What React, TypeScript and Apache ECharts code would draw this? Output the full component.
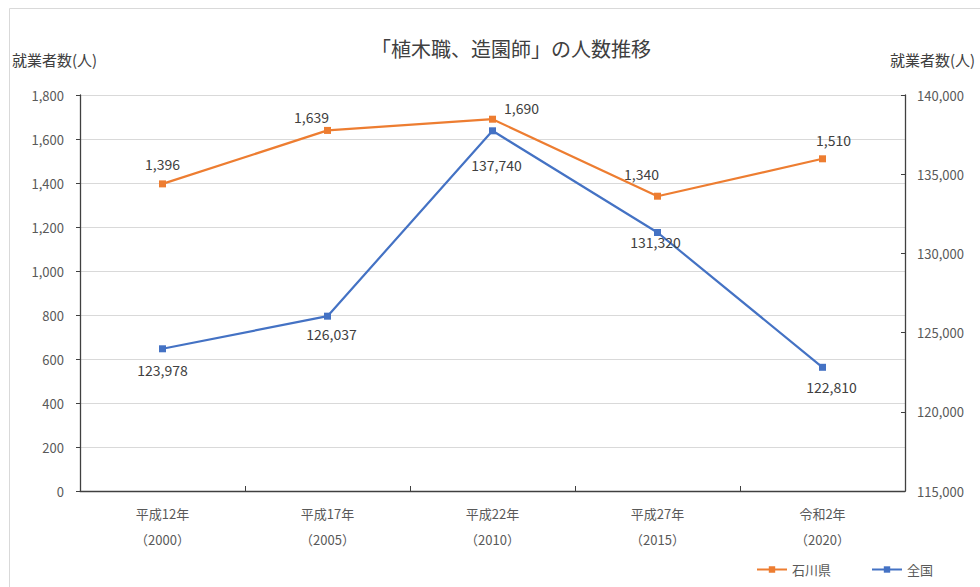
import React, { useEffect, useRef } from "react";
import * as echarts from "echarts";

const categories = ["平成12年\n（2000）", "平成17年\n（2005）", "平成22年\n（2010）", "平成27年\n（2015）", "令和2年\n（2020）"];
const ishikawa = [1396, 1639, 1690, 1340, 1510];
const zenkoku = [123978, 126037, 137740, 131320, 122810];
const leftTicks = { min: 0, max: 1800, interval: 200 };
const rightTicks = { min: 115000, max: 140000, interval: 5000 };

const ishiOffsets = [[0, -4], [-16, 2], [29, 4], [-16, -7], [11, -3]];
const zenOffsets = [[0, 6], [4, 2], [4, 19], [-2, -6], [9, 4]];

const FONT = "'Noto Sans CJK JP', 'Noto Sans', sans-serif";
const fmt = (v: number) => v.toLocaleString("en-US");

export default function App() {
  const ref = useRef<HTMLDivElement>(null);
  useEffect(() => {
    if (!ref.current) return;
    const chart = echarts.init(ref.current, null, { renderer: "svg" });
    const axisLine = { show: true, lineStyle: { color: "#404040", width: 1.3 } };
    const axisLabel = { color: "#595959", fontSize: 13, fontFamily: FONT };
    chart.setOption({
      animation: false,
      backgroundColor: "#ffffff",
      textStyle: { fontFamily: FONT },
      title: {
        text: "「植木職、造園師」の人数推移",
        left: 366,
        top: 33,
        textStyle: { fontSize: 20, fontWeight: "normal", color: "#404040", fontFamily: FONT },
      },
      graphic: [
        {
          type: "rect",
          shape: { x: 9.5, y: 8.5, width: 1000, height: 600 },
          style: { fill: "none", stroke: "#d9d9d9", lineWidth: 1 },
          silent: true,
        },
        {
          type: "text",
          left: 12,
          top: 52,
          style: { text: "就業者数(人)", fontSize: 15, fill: "#404040", fontFamily: FONT },
        },
        {
          type: "text",
          left: 890,
          top: 52,
          style: { text: "就業者数(人)", fontSize: 15, fill: "#404040", fontFamily: FONT },
        },
      ],
      legend: {
        right: 42,
        bottom: 6,
        itemGap: 40,
        itemWidth: 30,
        itemHeight: 8,
        textStyle: { color: "#595959", fontSize: 13, fontFamily: FONT },
        data: ["石川県", "全国"],
      },
      grid: { left: 80, right: 75, top: 95, bottom: 96, containLabel: false },
      xAxis: {
        type: "category",
        data: categories,
        boundaryGap: true,
        axisLine,
        axisTick: { show: true, inside: true, length: 5, lineStyle: { color: "#404040" } },
        axisLabel: { ...axisLabel, margin: 9, lineHeight: 26 },
      },
      yAxis: [
        {
          type: "value",
          ...leftTicks,
          position: "left",
          axisLine,
          axisTick: { show: true, length: 4, lineStyle: { color: "#404040" } },
          axisLabel: { ...axisLabel, margin: 16, formatter: (v: number) => fmt(v) },
          splitLine: { show: true, lineStyle: { color: "#d9d9d9" } },
        },
        {
          type: "value",
          ...rightTicks,
          position: "right",
          axisLine,
          axisTick: { show: true, inside: true, length: 4, lineStyle: { color: "#404040" } },
          axisLabel: { ...axisLabel, margin: 12, formatter: (v: number) => fmt(v) },
          splitLine: { show: false },
        },
      ],
      series: [
        {
          name: "石川県",
          type: "line",
          yAxisIndex: 0,
          data: ishikawa.map((v, i) => ({
            value: v,
            label: { offset: ishiOffsets[i] },
          })),
          symbol: "rect",
          symbolSize: 7,
          itemStyle: { color: "#ED7D31" },
          lineStyle: { color: "#ED7D31", width: 2.2 },
          label: {
            show: true,
            position: "top",
            distance: 5,
            color: "#404040",
            fontSize: 14,
            fontFamily: FONT,
            formatter: (p: any) => fmt(p.value),
          },
        },
        {
          name: "全国",
          type: "line",
          yAxisIndex: 1,
          data: zenkoku.map((v, i) => ({
            value: v,
            label: { offset: zenOffsets[i] },
          })),
          symbol: "rect",
          symbolSize: 7,
          itemStyle: { color: "#4472C4" },
          lineStyle: { color: "#4472C4", width: 2.2 },
          label: {
            show: true,
            position: "bottom",
            distance: 5,
            color: "#404040",
            fontSize: 14,
            fontFamily: FONT,
            formatter: (p: any) => fmt(p.value),
          },
        },
      ],
    });
    return () => chart.dispose();
  }, []);
  return (
    <div
      ref={ref}
      style={{ position: "fixed", left: 0, top: 0, width: 980, height: 587 }}
    />
  );
}
